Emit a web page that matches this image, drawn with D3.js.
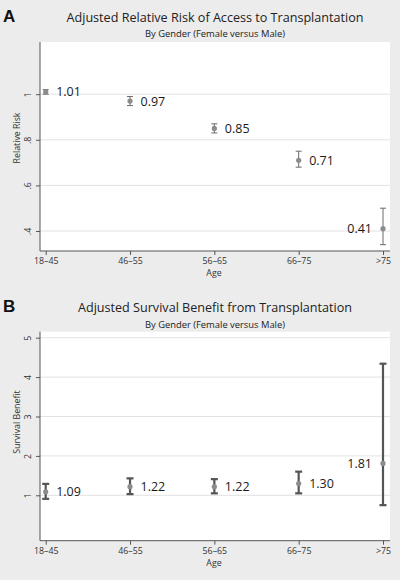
<!DOCTYPE html>
<html><head><meta charset="utf-8">
<script src="https://cdn.jsdelivr.net/npm/d3@7"></script>
<style>
html,body{margin:0;padding:0;background:#ececec;}
svg{display:block;font-family:"Open Sans","Noto Sans",sans-serif;}
</style></head>
<body><svg id="c" width="400" height="580"></svg>
<script>
const categories = ["18–45","46–55","56–65","66–75",">75"];
const rrEst = [1.01, 0.97, 0.85, 0.71, 0.41];
const rrLo  = [1.00, 0.95, 0.83, 0.68, 0.34];
const rrHi  = [1.02, 0.99, 0.87, 0.75, 0.50];
const rrTicks = [0.4, 0.6, 0.8, 1];
const rrTickLabels = [".4", ".6", ".8", "1"];
const sbEst = [1.09, 1.22, 1.22, 1.30, 1.81];
const sbLo  = [0.91, 1.03, 1.05, 1.05, 0.75];
const sbHi  = [1.29, 1.43, 1.41, 1.60, 4.34];
const sbTicks = [1, 2, 3, 4, 5];
const sbTickLabels = ["1", "2", "3", "4", "5"];

const svg = d3.select("#c");
svg.append("rect").attr("width",400).attr("height",580).attr("fill","#ececec");

function panel(o){
  const g = svg.append("g");
  const x = d3.scalePoint().domain(categories).range([45.7, 383]);
  const y = d3.scaleLinear().domain(o.domain).range([o.bottom, o.top]);
  const L = 40, R = 390;
  g.append("text").attr("x",3).attr("y",o.letterY).attr("font-family","Arial,Liberation Sans,sans-serif")
    .attr("font-weight","bold").attr("font-size",17).attr("fill","#111").text(o.letter);
  g.append("text").attr("x",215).attr("y",o.titleY).attr("text-anchor","middle")
    .attr("font-size",12.6).attr("fill","#222").text(o.title);
  g.append("text").attr("x",215).attr("y",o.subY).attr("text-anchor","middle")
    .attr("font-size",9.4).attr("fill","#222").text("By Gender (Female versus Male)");
  g.append("rect").attr("x",L).attr("y",o.top).attr("width",R-L).attr("height",o.bottom-o.top).attr("fill","#fff");
  g.selectAll(".grid").data(o.ticks).enter().append("line")
    .attr("x1",L).attr("x2",R).attr("y1",d=>y(d)).attr("y2",d=>y(d))
    .attr("stroke","#e2e2e2").attr("stroke-width",1);
  const ya = d3.axisLeft(y).tickValues(o.ticks).tickSize(4).tickFormat((d,i)=>o.tickLabels[i]);
  const yg = g.append("g").attr("transform",`translate(${L},0)`).call(ya);
  yg.select(".domain").remove();
  yg.selectAll(".tick line").attr("stroke","#555");
  yg.selectAll(".tick text").attr("transform","rotate(-90)").attr("x",0).attr("y",-9.5)
    .attr("dy",0).attr("text-anchor","middle").attr("font-size",8.8).attr("fill","#333")
    .attr("font-family","\"Open Sans\",sans-serif");
  g.append("line").attr("x1",L).attr("x2",L).attr("y1",o.top).attr("y2",o.bottom).attr("stroke","#555");
  const xa = d3.axisBottom(x).tickSize(4).tickSizeOuter(0);
  const xg = g.append("g").attr("transform",`translate(0,${o.bottom})`).call(xa);
  xg.select(".domain").remove();
  xg.selectAll(".tick line").attr("stroke","#555");
  xg.selectAll(".tick text").attr("y",13).attr("dy",0).attr("font-size",8.8).attr("fill","#333")
    .attr("font-family","\"Open Sans\",sans-serif");
  g.append("line").attr("x1",L).attr("x2",R).attr("y1",o.bottom).attr("y2",o.bottom).attr("stroke","#555");
  g.append("text").attr("x",214).attr("y",o.bottom+25).attr("text-anchor","middle")
    .attr("font-size",8.8).attr("fill","#333").text("Age");
  g.append("text").attr("transform",`translate(20,${o.yTitleY}) rotate(-90)`).attr("text-anchor","middle")
    .attr("font-size",8.8).attr("fill","#333").text(o.yTitle);
  const data = categories.map((c,i)=>({c, est:o.est[i], lo:o.lo[i], hi:o.hi[i]}));
  const eb = g.selectAll(".eb").data(data).enter().append("g");
  eb.append("line").attr("x1",d=>x(d.c)).attr("x2",d=>x(d.c)).attr("y1",d=>y(d.lo)).attr("y2",d=>y(d.hi))
    .attr("stroke",o.barColor).attr("stroke-width",o.barW);
  [ "lo","hi" ].forEach(k=>{
    eb.append("line").attr("x1",d=>x(d.c)-o.cap).attr("x2",d=>x(d.c)+o.cap)
      .attr("y1",d=>y(d[k])).attr("y2",d=>y(d[k]))
      .attr("stroke",o.barColor).attr("stroke-width",o.barW);
  });
  eb.append("circle").attr("cx",d=>x(d.c)).attr("cy",d=>y(d.est)).attr("r",2.6).attr("fill","#8c8c8c");
  eb.append("text").attr("x",(d,i)=>i===4? x(d.c)-11 : x(d.c)+10.5)
    .attr("y",d=>y(d.est)).attr("dy","0.36em")
    .attr("text-anchor",(d,i)=>i===4?"end":"start")
    .attr("font-size",12.5).attr("fill","#1a1a1a").text(d=>d3.format(".2f")(d.est));
}

panel({letter:"A", letterY:22, title:"Adjusted Relative Risk of Access to Transplantation", titleY:21.5, subY:37,
  top:42, bottom:251, domain:[0.3123,1.2289], ticks:rrTicks, tickLabels:rrTickLabels,
  yTitle:"Relative Risk", yTitleY:138, est:rrEst, lo:rrLo, hi:rrHi, barColor:"#6a6a6a", barW:1, cap:3});
panel({letter:"B", letterY:312, title:"Adjusted Survival Benefit from Transplantation", titleY:311.5, subY:327.5,
  top:331.7, bottom:540.7, domain:[-0.1523,5.1523], ticks:sbTicks, tickLabels:sbTickLabels,
  yTitle:"Survival Benefit", yTitleY:422, est:sbEst, lo:sbLo, hi:sbHi, barColor:"#555", barW:2.2, cap:3.5});
</script></body></html>
